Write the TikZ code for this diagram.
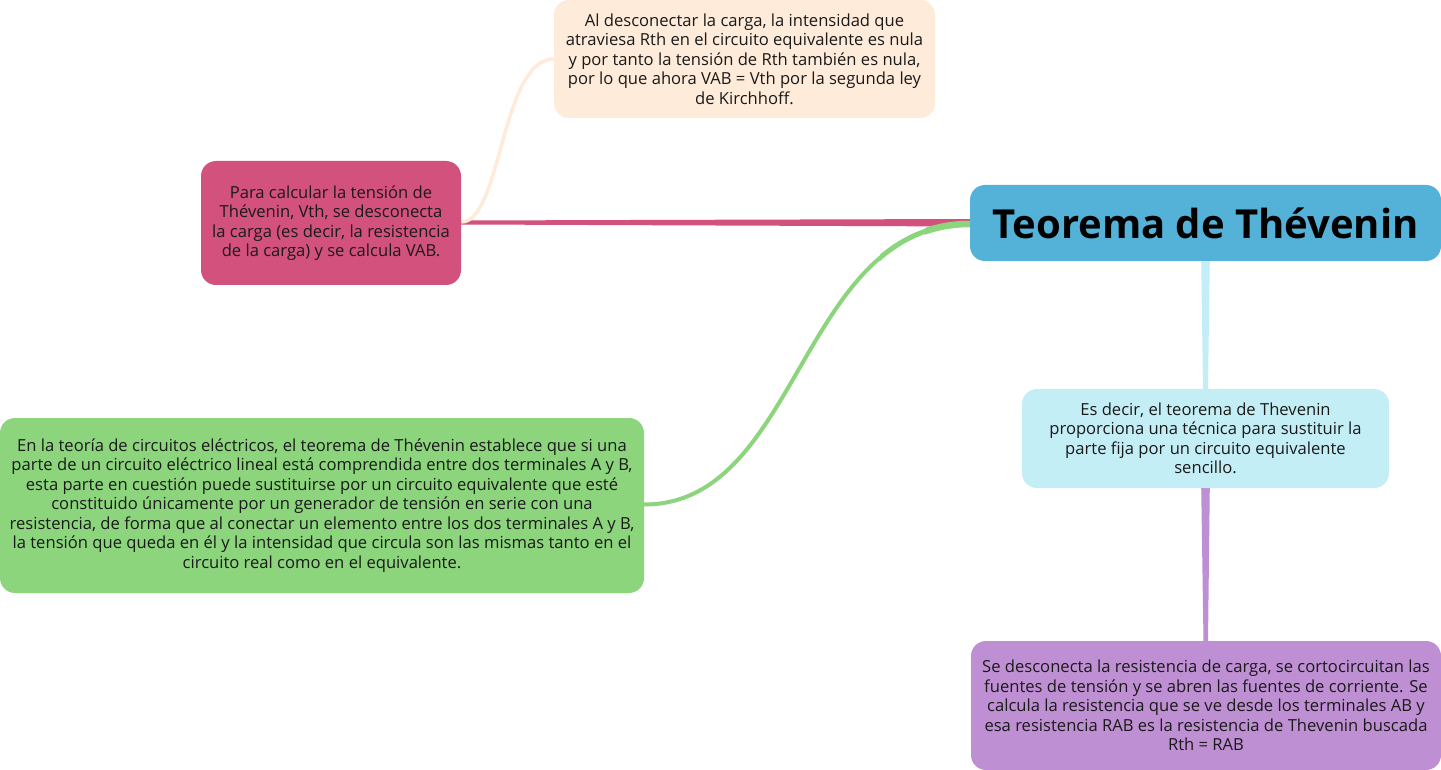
\documentclass[tikz,border=0pt]{standalone}
\usepackage{fontspec}
\setmainfont{Open Sans}
\usetikzlibrary{calc,backgrounds}
\definecolor{titlec}{HTML}{54B2D8}
\definecolor{lbluec}{HTML}{C4EEF6}
\definecolor{purplec}{HTML}{BF8FD3}
\definecolor{pinkc}{HTML}{D3517D}
\definecolor{peachc}{HTML}{FFEBDA}
\definecolor{greenc}{HTML}{8CD57D}
\definecolor{textc}{HTML}{1A1A1A}
\tikzset{
  box/.style={rounded corners=15pt, inner sep=0pt, align=center, text=textc,
    font=\fontsize{16.6}{19.5}\selectfont},
  greenlink/.style={greenc, line width=#1},
}
\begin{document}
\begin{tikzpicture}[x=1pt,y=-1pt]
\useasboundingbox (0,0) rectangle (1441,770);

\node[box, fill=titlec, minimum width=471pt, minimum height=76pt, text=black,
  font=\fontsize{40}{46}\selectfont\bfseries] (title) at (1205.5,223) {Teorema de Thévenin};
\node[box, fill=lbluec, minimum width=367pt, minimum height=99pt] (lblue) at (1205.5,438.5)
  {Es decir, el teorema de Thevenin\\proporciona una técnica para sustituir la\\parte fija por un circuito equivalente\\sencillo.};
\node[box, fill=purplec, minimum width=470pt, minimum height=129pt] (purple) at (1206,705.5)
  {Se desconecta la resistencia de carga, se cortocircuitan las\\fuentes de tensión y se abren las fuentes de corriente. Se\\calcula la resistencia que se ve desde los terminales AB y\\esa resistencia RAB es la resistencia de Thevenin buscada\\Rth = RAB};
\node[box, fill=pinkc, minimum width=260pt, minimum height=124pt] (pink) at (331,223)
  {Para calcular la tensión de\\Thévenin, Vth, se desconecta\\la carga (es decir, la resistencia\\de la carga) y se calcula VAB.};
\node[box, fill=peachc, minimum width=381pt, minimum height=118pt] (peach) at (744.5,59)
  {Al desconectar la carga, la intensidad que\\atraviesa Rth en el circuito equivalente es nula\\y por tanto la tensión de Rth también es nula,\\por lo que ahora VAB = Vth por la segunda ley\\de Kirchhoff.};
\node[box, fill=greenc, minimum width=644pt, minimum height=175pt] (green) at (322,505.5)
  {En la teoría de circuitos eléctricos, el teorema de Thévenin establece que si una\\parte de un circuito eléctrico lineal está comprendida entre dos terminales A y B,\\esta parte en cuestión puede sustituirse por un circuito equivalente que esté\\constituido únicamente por un generador de tensión en serie con una\\resistencia, de forma que al conectar un elemento entre los dos terminales A y B,\\la tensión que queda en él y la intensidad que circula son las mismas tanto en el\\circuito real como en el equivalente.};

\begin{scope}[on background layer]
\fill[white] (0,0) rectangle (1441,770);
% title -> pink (tapered)
\fill[pinkc] ($(pink.east)+(0,-2.5)$) -- ($(title.west)+(0,-4)$) -- ($(title.west)+(0,3.5)$) -- ($(pink.east)+(0,1.5)$) -- cycle;
% pink -> peach
\draw[peachc, line width=3.5pt] ($(pink.east)+(0,-1)$) .. controls ($(pink.east)+(40.5,-1)$) and ($(peach.west)+(-53,0)$) .. (peach.west);
% title -> green (tapered by layered strokes)
\draw[greenlink=4pt] ($(title.west)+(0,1)$) .. controls ($(title.west)+(-170,1)$) and ($(green.east)+(156,-1)$) .. ($(green.east)+(0,-1)$);
\begin{scope}
\clip (880,150) rectangle (975,300);
\draw[greenlink=5pt] ($(title.west)+(0,1)$) .. controls ($(title.west)+(-170,1)$) and ($(green.east)+(156,-1)$) .. ($(green.east)+(0,-1)$);
\end{scope}
\begin{scope}
\clip (925,150) rectangle (975,300);
\draw[greenlink=6.5pt] ($(title.west)+(0,1)$) .. controls ($(title.west)+(-170,1)$) and ($(green.east)+(156,-1)$) .. ($(green.east)+(0,-1)$);
\end{scope}
% title -> lblue
\fill[lbluec] ($(title.south)+(-4.3,-1)$) -- ($(title.south)+(4.3,-1)$) -- ($(lblue.north)+(2.5,1)$) -- ($(lblue.north)+(-2.5,1)$) -- cycle;
% lblue -> purple
\fill[purplec] ($(lblue.south)+(-4.3,-1)$) -- ($(lblue.south)+(4.3,-1)$) -- ($(purple.north)+(2,1)$) -- ($(purple.north)+(-2.5,1)$) -- cycle;
\end{scope}
\end{tikzpicture}
\end{document}
